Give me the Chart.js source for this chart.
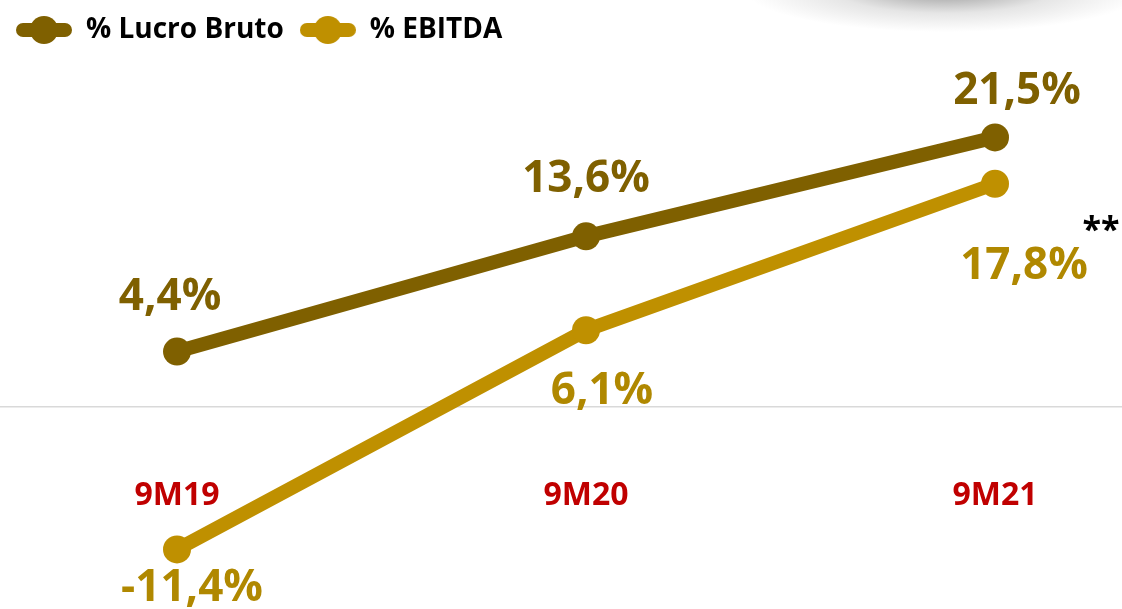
<!DOCTYPE html>
<html>
<head>
<meta charset="utf-8">
<script src="https://cdn.jsdelivr.net/npm/chart.js@4"></script>
<style>
  html, body { margin: 0; padding: 0; background: #fff; }
  #wrap {
    position: relative; width: 1122px; height: 609px;
    background: radial-gradient(ellipse 200px 42px at 945px -10px,
      rgba(110,110,110,0.7) 0%, rgba(170,170,170,0.3) 55%, rgba(255,255,255,0) 100%);
  }
  canvas { display: block; }
</style>
</head>
<body>
<div id="wrap"><canvas id="chart" width="1122" height="609"></canvas></div>
<script>
// data
const categories = ['9M19', '9M20', '9M21'];
const lucroBruto = [4.4, 13.6, 21.5];
const ebitda = [-11.4, 6.1, 17.8];
const seriesNames = ['% Lucro Bruto', '% EBITDA'];
const ebitdaNote = '**';

const lineColors = ['#7f6000', '#bf9000'];
const labelColors = ['#7f6000', '#b08800'];
const fontFamily = '"Open Sans", Lato, sans-serif';
// label position relative to each point (dx, dy)
const labelOffsets = [
    [[-7, -54], [0, -57], [22, -46]],
    [[15, 39], [16, 61], [29, 83]]
];

function fmt(v) {
    return v.toFixed(1).replace('.', ',') + '%';
}

function makeMarker(color) {
    const c = document.createElement('canvas');
    c.width = 56;
    c.height = 30;
    const g = c.getContext('2d');
    g.strokeStyle = color;
    g.lineWidth = 14;
    g.lineCap = 'round';
    g.beginPath();
    g.moveTo(7, 15);
    g.lineTo(49, 15);
    g.stroke();
    g.fillStyle = color;
    g.beginPath();
    g.arc(28, 15, 14, 0, Math.PI * 2);
    g.fill();
    return c;
}
const markers = lineColors.map(makeMarker);

const valueLabels = {
    id: 'valueLabels',
    afterDatasetsDraw(chart) {
        const ctx = chart.ctx;
        ctx.save();
        ctx.textAlign = 'center';
        ctx.textBaseline = 'middle';
        ctx.font = 'bold 44px ' + fontFamily;
        chart.data.datasets.forEach((ds, di) => {
            const meta = chart.getDatasetMeta(di);
            meta.data.forEach((pt, i) => {
                const [dx, dy] = labelOffsets[di][i];
                ctx.fillStyle = labelColors[di];
                ctx.fillText(fmt(ds.data[i].y), pt.x + dx, pt.y + dy);
            });
        });
        // footnote mark next to last EBITDA value
        const last = chart.getDatasetMeta(1).data[2];
        ctx.font = 'bold 34px ' + fontFamily;
        ctx.fillStyle = '#000';
        ctx.fillText(ebitdaNote, last.x + 106, last.y + 48);
        ctx.restore();
    }
};

const toPoints = arr => arr.map((v, i) => ({ x: i, y: v }));

const ctx = document.getElementById('chart').getContext('2d');
new Chart(ctx, {
    type: 'line',
    data: {
        datasets: [{
            label: seriesNames[0],
            data: toPoints(lucroBruto),
            borderColor: lineColors[0],
            backgroundColor: lineColors[0],
            borderWidth: 14,
            pointRadius: 14,
            pointBorderWidth: 0,
            pointBackgroundColor: lineColors[0]
        }, {
            label: seriesNames[1],
            data: toPoints(ebitda),
            borderColor: lineColors[1],
            backgroundColor: lineColors[1],
            borderWidth: 14,
            pointRadius: 14,
            pointBorderWidth: 0,
            pointBackgroundColor: lineColors[1]
        }]
    },
    options: {
        responsive: false,
        devicePixelRatio: 1,
        animation: false,
        layout: { padding: 0, autoPadding: false },
        scales: {
            x: {
                type: 'linear',
                min: -0.4328,
                max: 2.3105,
                position: { y: -5.6 },
                grid: { display: false, drawTicks: false },
                border: { display: false },
                ticks: {
                    stepSize: 1,
                    includeBounds: false,
                    autoSkip: false,
                    maxRotation: 0,
                    padding: 0,
                    color: '#c00000',
                    font: { family: fontFamily, size: 32, weight: 'bold' },
                    callback: v => categories[v] ?? ''
                }
            },
            y: {
                min: -16.16,
                max: 28.16,
                border: { display: false },
                grid: {
                    drawTicks: false,
                    lineWidth: 1.5,
                    color: c => c.tick && c.tick.value === 0 ? '#d9d9d9' : 'rgba(0,0,0,0)'
                },
                ticks: { display: false, stepSize: 10 }
            }
        },
        plugins: {
            tooltip: { enabled: false },
            legend: {
                position: 'top',
                align: 'start',
                labels: {
                    usePointStyle: true,
                    pointStyleWidth: 56,
                    padding: 16,
                    color: '#000',
                    font: { family: fontFamily, size: 28, weight: 'bold' },
                    generateLabels(chart) {
                        const items = Chart.defaults.plugins.legend.labels.generateLabels(chart);
                        return items.map((it, i) => Object.assign(it, { pointStyle: markers[i] }));
                    }
                }
            }
        }
    },
    plugins: [valueLabels]
});
</script>
</body>
</html>
